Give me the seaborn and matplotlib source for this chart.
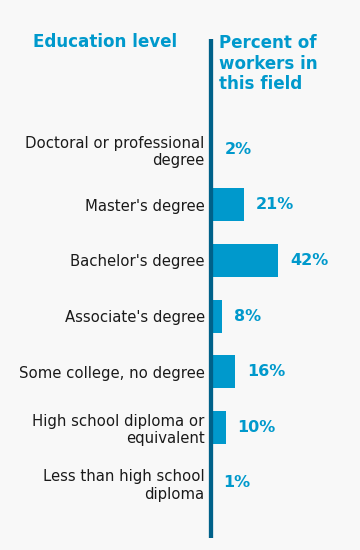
import matplotlib
matplotlib.use("Agg")
import matplotlib.pyplot as plt
import seaborn as sns
import pandas as pd

categories = [
    "Doctoral or professional\ndegree",
    "Master's degree",
    "Bachelor's degree",
    "Associate's degree",
    "Some college, no degree",
    "High school diploma or\nequivalent",
    "Less than high school\ndiploma",
]
percents = [2, 21, 42, 8, 16, 10, 1]
left_header = "Education level"
right_header = ["Percent of", "workers in", "this field"]

BG = "#f8f8f8"
BAR = "#0099cc"
LINE = "#006189"
TXT = "#1a1a1a"

sns.set_theme(style="white")
plt.rcParams["font.family"] = ["DejaVu Sans"]

W, H = 360, 550
fig = plt.figure(figsize=(W / 100, H / 100), dpi=100, facecolor=BG)
ax_left, ax_top, ax_bot = 209.3, 39, 537.5
line_center = 210.6
ax = fig.add_axes([ax_left / W, 1 - ax_bot / H, (W - ax_left) / W, (ax_bot - ax_top) / H])
ax.set_facecolor(BG)

df = pd.DataFrame({"cat": categories, "pct": percents})
sns.barplot(data=df, y="cat", x="pct", orient="h", color=BAR, width=0.595,
            saturation=1, ax=ax, edgecolor="none")

px_per = (278 - ax_left) / 42
ax.set_xlim(0, (W - ax_left) / px_per)
ax.set_ylim(6.98, -1.98)

for i, v in enumerate(percents):
    ax.text(v + 12 / px_per, i, f"{v}%", va="center", ha="left",
            fontsize=11.5, fontweight="bold", color=BAR)

for s in ["top", "right", "bottom"]:
    ax.spines[s].set_visible(False)
ax.spines["left"].set_position(("data", (line_center - ax_left) / px_per))
ax.spines["left"].set_color(LINE)
ax.spines["left"].set_linewidth(4.3 * 72 / 100)
ax.spines["left"].set_capstyle("butt")
ax.spines["left"].set_zorder(3)

ax.set_xticks([])
ax.set_xlabel("")
ax.set_ylabel("")
ax.tick_params(axis="y", length=0, pad=4.3, labelsize=10.7, labelcolor=TXT)
for lab in ax.get_yticklabels():
    lab.set_horizontalalignment("right")
    lab.set_multialignment("right")
    lab.set_linespacing(1.22)

fig.text(33 / W, 1 - 47 / H, left_header, ha="left", va="baseline",
         fontsize=12.1, fontweight="bold", color=BAR)
for k, (line, yb) in enumerate(zip(right_header, [48, 68.7, 89.2])):
    fig.text(219 / W, 1 - yb / H, line, ha="left", va="baseline",
             fontsize=12.1, fontweight="bold", color=BAR)

fig.savefig("out.png", dpi=100, facecolor=BG)
